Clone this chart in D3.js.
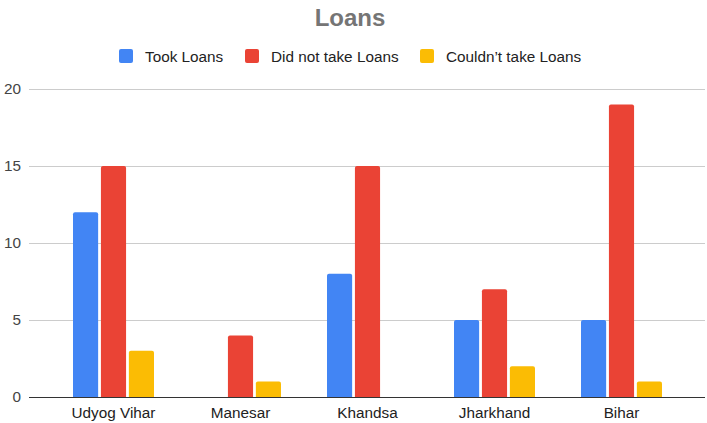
<!DOCTYPE html>
<html>
<head>
<meta charset="utf-8">
<script src="https://cdn.jsdelivr.net/npm/d3@7"></script>
<style>
  html, body { margin: 0; padding: 0; background: #fff; }
  svg { display: block; font-family: "Liberation Sans", Arial, sans-serif; }
</style>
</head>
<body>
<svg id="chart" width="707" height="423"></svg>
<script>
// Survey responses per location
const categories = ["Udyog Vihar", "Manesar", "Khandsa", "Jharkhand", "Bihar"];
const seriesNames = ["Took Loans", "Did not take Loans", "Couldn\u2019t take Loans"];
const tookLoans = [12, 0, 8, 5, 5];
const didNotTake = [15, 4, 15, 7, 19];
const couldNotTake = [3, 1, 0, 2, 1];
const yTicks = [0, 5, 10, 15, 20];
const colors = ["#4285f4", "#ea4335", "#fbbc04"];

const seriesValues = [tookLoans, didNotTake, couldNotTake];

const svg = d3.select("#chart");
const plotLeft = 29, plotRight = 705;
const y = d3.scaleLinear().domain([0, 20]).range([397, 89]);
const x0 = d3.scaleBand().domain(categories).range([50, 685]);
const x1 = d3.scaleBand().domain(seriesNames).range([-40.5, 40.5]).paddingInner(0.1);

// Title
svg.append("text")
  .attr("x", 350).attr("y", 26)
  .attr("text-anchor", "middle")
  .attr("font-size", 24).attr("font-weight", "bold")
  .attr("fill", "#757575")
  .text("Loans");

// Legend
const legendItems = [
  { sx: 119, tx: 145 },
  { sx: 245, tx: 271 },
  { sx: 420, tx: 446 }
];
const legend = svg.append("g");
seriesNames.forEach((name, i) => {
  legend.append("rect")
    .attr("x", legendItems[i].sx).attr("y", 49)
    .attr("width", 14).attr("height", 14).attr("rx", 2)
    .attr("fill", colors[i]);
  legend.append("text")
    .attr("x", legendItems[i].tx).attr("y", 62)
    .attr("font-size", 15.3).attr("fill", "#222")
    .text(name);
});

// Gridlines
const grid = svg.append("g");
grid.selectAll("line")
  .data(yTicks.filter(t => t !== 0))
  .join("line")
  .attr("x1", plotLeft).attr("x2", plotRight)
  .attr("y1", d => Math.round(y(d)) + 0.5).attr("y2", d => Math.round(y(d)) + 0.5)
  .attr("stroke", "#ccc").attr("stroke-width", 1);

// Y-axis labels
const yAxis = d3.axisLeft(y).tickValues(yTicks).tickSize(0).tickPadding(0);
const yg = svg.append("g").attr("transform", "translate(21,0)").call(yAxis);
yg.select(".domain").remove();
yg.selectAll("text")
  .attr("font-size", 15.3).attr("fill", "#444")
  .attr("font-family", "'Liberation Sans', Arial, sans-serif")
  .attr("text-anchor", "end");

// Bars
const groups = svg.append("g").selectAll("g")
  .data(categories)
  .join("g")
  .attr("transform", d => `translate(${x0(d) + x0.bandwidth() / 2},0)`);

groups.selectAll("path")
  .data((d, ci) => seriesNames.map((s, si) => ({ s, si, v: seriesValues[si][ci] })))
  .join("path")
  .filter(d => d.v > 0)
  .attr("fill", d => colors[d.si])
  .attr("d", d => {
    const bx = x1(d.s), bw = x1.bandwidth();
    const top = y(d.v), bottom = y(0), r = 2;
    return `M${bx},${bottom}V${top + r}Q${bx},${top} ${bx + r},${top}H${bx + bw - r}Q${bx + bw},${top} ${bx + bw},${top + r}V${bottom}Z`;
  });

// Zero baseline drawn above the bars
svg.append("line")
  .attr("x1", plotLeft).attr("x2", plotRight)
  .attr("y1", y(0) + 0.5).attr("y2", y(0) + 0.5)
  .attr("stroke", "#333").attr("stroke-width", 1);

// X-axis category labels
const xAxis = d3.axisBottom(x0).tickSize(0).tickPadding(0);
const xg = svg.append("g").attr("transform", `translate(0,${y(0)})`).call(xAxis);
xg.select(".domain").remove();
xg.selectAll("text")
  .attr("font-size", 15.3).attr("fill", "#222")
  .attr("font-family", "'Liberation Sans', Arial, sans-serif")
  .attr("dy", null).attr("y", 21);
</script>
</body>
</html>
